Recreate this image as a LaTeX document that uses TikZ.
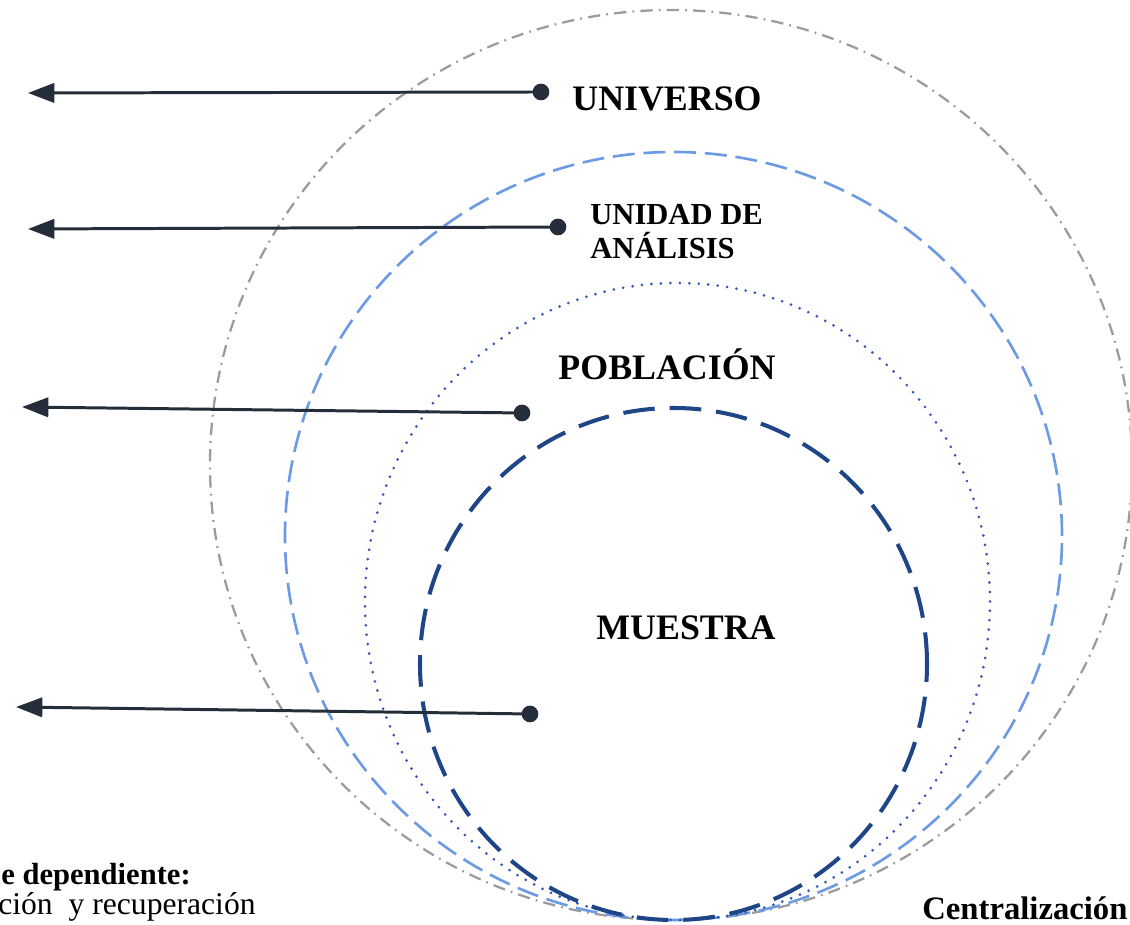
\documentclass[tikz,border=0pt]{standalone}
\usepackage{fontspec}
\setmainfont{Liberation Serif}
\usetikzlibrary{arrows.meta}
\definecolor{navy}{HTML}{252D3B}
\definecolor{grisc}{HTML}{9C9C9C}
\definecolor{celeste}{HTML}{6D9BE3}
\definecolor{azul}{HTML}{3356B8}
\definecolor{marino}{HTML}{1E4585}

\begin{document}
\begin{tikzpicture}
    [x=0.02cm, y=0.02cm,
    universo/.style={grisc, line width=1.3pt, dash pattern=on 7pt off 3.5pt on 1pt off 3.5pt},
    unidad/.style={celeste, line width=1.5pt, dash pattern=on 12.5pt off 5pt},
    poblacion/.style={azul, line width=1.7pt, line cap=round, dash pattern=on 0pt off 5.4pt},
    muestra/.style={marino, line width=2.3pt, dash pattern=on 18pt off 8.5pt},
    dot/.style={circle, fill=navy, inner sep=0pt, minimum size=9.5pt},
    arr/.style={navy, line width=1.7pt, -{Triangle[length=15pt, width=11pt]}},
    label/.style={font=\bfseries\fontsize{20.4}{24}\selectfont, inner sep=0pt, anchor=base},
    note/.style={font=\fontsize{18}{21}\selectfont, inner sep=0pt, anchor=base west}]
    \useasboundingbox (0,0) rectangle (1130,925);
    \clip (0,0) rectangle (1130,925);
    \draw[universo] (671,460) ellipse [x radius=461, y radius=455];
    \draw[unidad] (673.5,389) ellipse [x radius=388.5, y radius=384];
    \draw[poblacion] (677.5,323.5) ellipse [x radius=312.5, y radius=318.5];
    \draw[muestra] (673.5,261) ellipse [x radius=253.5, y radius=256];
    \node[label] (tu) at (667,814) {UNIVERSO};
    \node[label, anchor=base west, align=left, font=\bfseries\fontsize{17.4}{19.8}\selectfont] (ta) at (590,666) {UNIDAD DE\\ANÁLISIS};
    \node[label] (tp) at (667,545) {POBLACIÓN};
    \node[label] (tm) at (686,285) {MUESTRA};
    \node[dot] (du) at (541,833) {};
    \node[dot] (da) at (558,698) {};
    \node[dot] (dp) at (522,512) {};
    \node[dot] (dm) at (530,211) {};
    \coordinate (eu) at (28,832);
    \coordinate (ea) at (28,696);
    \coordinate (ep) at (22,518);
    \coordinate (em) at (16,218);
    \draw[arr] (du.center) -- (eu);
    \draw[arr] (da.center) -- (ea);
    \draw[arr] (dp.center) -- (ep);
    \draw[arr] (dm.center) -- (em);
    \node[note, font=\bfseries\fontsize{17.4}{21}\selectfont] (vd) at (1,40) {e dependiente:};
    \node[note] (vr) at (-2,10) {ción\ \ y recuperación};
    \node[note, font=\bfseries\fontsize{18.6}{21}\selectfont] (vc) at (922,5) {Centralización};
\end{tikzpicture}
\end{document}
